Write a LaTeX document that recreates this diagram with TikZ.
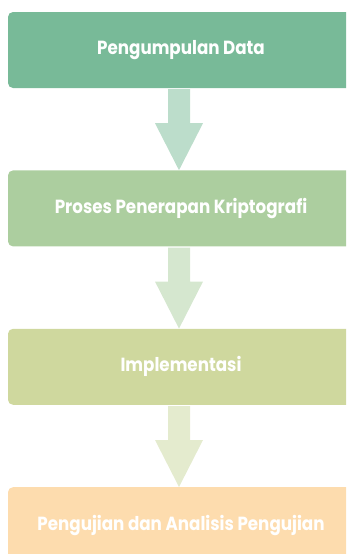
\documentclass[tikz,border=0pt]{standalone}
\usepackage{fontspec}
\setmainfont{Poppins}
\usetikzlibrary{calc,positioning}
\definecolor{stageA}{HTML}{78BA98}
\definecolor{stageB}{HTML}{ACCE9F}
\definecolor{stageC}{HTML}{CFD89E}
\definecolor{stageD}{HTML}{FDDCAE}
\definecolor{arrowA}{HTML}{BCDDCB}
\definecolor{arrowB}{HTML}{D5E7CF}
\definecolor{arrowC}{HTML}{E4EBCE}
\tikzset{
  stage/.style={rectangle,rounded corners=5pt,minimum width=346pt,minimum height=76pt,
    inner sep=0pt,text=white,font=\bfseries\fontsize{19}{21}\selectfont},
}
\newcommand{\stagetext}[1]{\scalebox{0.88}[1]{#1}}
% block arrow from the bottom of #1 to the top of #2
\newcommand{\flowarrow}[3]{%
  \fill[#3] ($(#1.south)+(-13pt,-1pt)$) -- ($(#1.south)+(9pt,-1pt)$)
     -- ($(#2.north)+(9pt,47pt)$) -- ($(#2.north)+(22pt,47pt)$)
     -- ($(#2.north)+(-2pt,0pt)$)
     -- ($(#2.north)+(-26pt,47pt)$) -- ($(#2.north)+(-13pt,47pt)$) -- cycle;}

\begin{document}
\begin{tikzpicture}
    \useasboundingbox (0,0) rectangle (346pt,-554pt);
    \clip (0,0) rectangle (346pt,-554pt);
    \node[stage,fill=stageA] (collect) at (181pt,-50pt) {\stagetext{Pengumpulan Data}};
    \node[stage,fill=stageB,below=82pt of collect] (crypto) {\stagetext{Proses Penerapan Kriptografi}};
    \node[stage,fill=stageC,below=82pt of crypto] (implement) {\stagetext{Implementasi}};
    \node[stage,fill=stageD,below=82pt of implement] (testing) {\stagetext{Pengujian dan Analisis Pengujian}};
    \flowarrow{collect}{crypto}{arrowA}
    \flowarrow{crypto}{implement}{arrowB}
    \flowarrow{implement}{testing}{arrowC}
  \end{tikzpicture}
\end{document}
